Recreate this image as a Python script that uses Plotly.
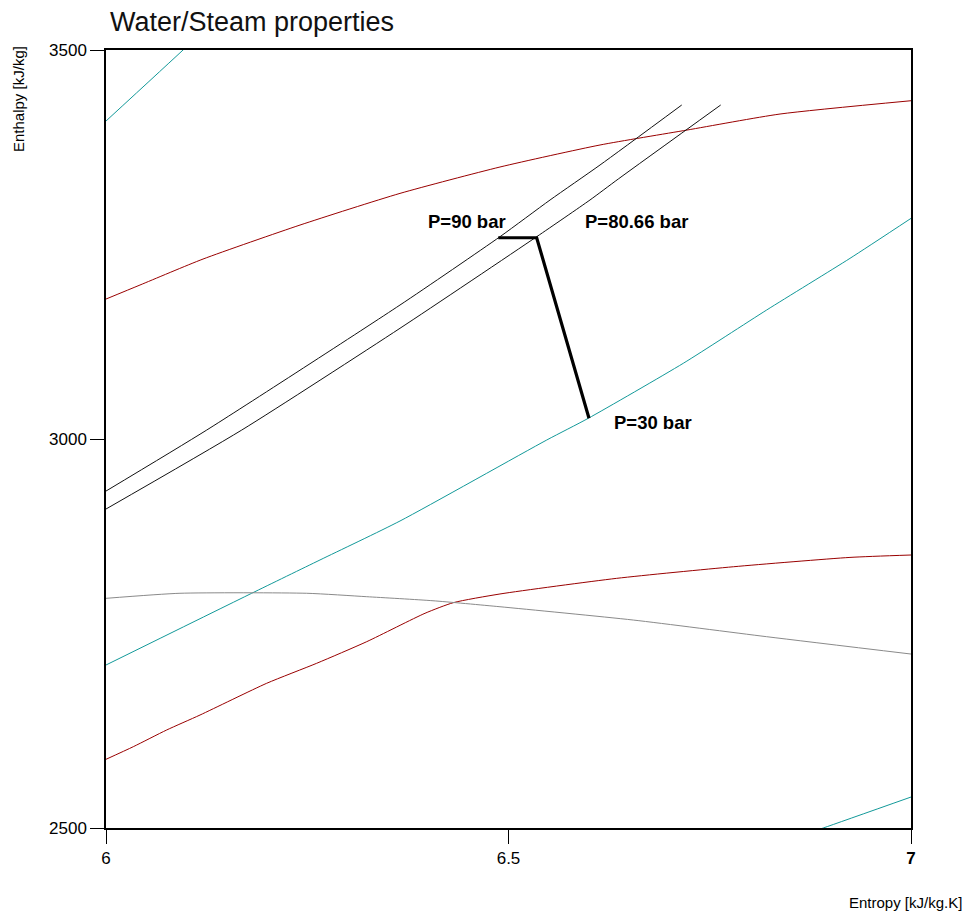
import plotly.graph_objects as go

# Mollier (h-s) diagram data: entropy s [kJ/kg.K], enthalpy h [kJ/kg]

# isobar P = 90 bar
s_p90 = [6.0, 6.1251, 6.3652, 6.4894, 6.5516, 6.6137, 6.7152]
h_p90 = [2933.1, 3011.5, 3172.2, 3260.0, 3307.2, 3352.2, 3429.3]

# isobar P = 80.66 bar
s_p8066 = [6.0, 6.1686, 6.3652, 6.535, 6.6012, 6.6364, 6.7636]
h_p8066 = [2910.0, 3011.5, 3142.3, 3260.0, 3307.2, 3334.2, 3429.3]

# isobar P = 30 bar
s_p30 = [6.0, 6.181, 6.2658, 6.3652, 6.5475, 6.5991, 6.7171, 6.8207, 6.9242, 7.0]
h_p30 = [2709.5, 2801.7, 2844.5, 2894.6, 2998.7, 3026.6, 3097.3, 3165.8, 3232.2, 3283.6]

# further isobars clipped by the frame
s_isobar_hi = [6.0, 6.0957, 6.11]
h_isobar_hi = [3408.7, 3500.0, 3514.0]
s_isobar_lo = [6.86, 6.891, 7.0]
h_isobar_lo = [2489.0, 2500.0, 2539.8]

# isotherms
s_iso_t_hi = [6.0, 6.0422, 6.1205, 6.2410, 6.3652, 6.4894, 6.6137, 6.7217, 6.8373, 7.0]
h_iso_t_hi = [3179.9, 3197.9, 3231.3, 3275.0, 3315.7, 3349.6, 3377.9, 3397.1, 3417.7, 3434.8]
s_iso_t_lo = [6.0, 6.0339, 6.0754, 6.1168, 6.1996, 6.2617, 6.3239, 6.3963, 6.4314,
              6.4894, 6.6344, 6.7793, 6.9242, 7.0]
h_iso_t_lo = [2588.3, 2604.5, 2626.0, 2645.2, 2686.0, 2711.7, 2739.5, 2776.0, 2789.6,
              2800.8, 2820.9, 2835.8, 2847.8, 2850.9]

# saturated vapour line
s_sat = [6.0, 6.0919, 6.2493, 6.3239, 6.4062, 6.4894, 6.655, 6.8207, 7.0]
h_sat = [2795.2, 2801.7, 2801.7, 2797.3, 2792.1, 2784.4, 2767.3, 2745.9, 2723.6]

# process: throttling 90 -> 80.66 bar, then expansion to 30 bar
s_proc = [6.4873, 6.535, 6.6]
h_proc = [3258.7, 3258.7, 3026.6]

# state labels
lbl_text = ["P=90 bar", "P=80.66 bar", "P=30 bar"]
lbl_s = [6.449, 6.659, 6.679]
lbl_h = [3279.0, 3279.0, 3021.8]

TEAL = "#129999"
RED = "#990000"
FONT = "Liberation Sans, Arial, sans-serif"

fig = go.Figure()


def add_curve(s, h, color, width=1.0):
    fig.add_trace(go.Scatter(x=s, y=h, mode="lines",
                             line=dict(color=color, width=width, shape="spline", smoothing=0.6),
                             hoverinfo="skip", showlegend=False))


add_curve(s_isobar_hi, h_isobar_hi, TEAL)
add_curve(s_isobar_lo, h_isobar_lo, TEAL)
add_curve(s_p30, h_p30, TEAL)
add_curve(s_iso_t_hi, h_iso_t_hi, RED)
add_curve(s_iso_t_lo, h_iso_t_lo, RED)
add_curve(s_sat, h_sat, "#8a8a8a")
add_curve(s_p90, h_p90, "#111111")
add_curve(s_p8066, h_p8066, "#111111")
fig.add_trace(go.Scatter(x=s_proc, y=h_proc, mode="lines",
                         line=dict(color="#000000", width=3.2),
                         hoverinfo="skip", showlegend=False))

annotations = []
for t, sx, hy in zip(lbl_text, lbl_s, lbl_h):
    annotations.append(dict(x=sx, y=hy, xref="x", yref="y", text="<b>%s</b>" % t,
                            showarrow=False, xanchor="center", yanchor="middle",
                            font=dict(family=FONT, size=18.5, color="#000000")))

annotations.append(dict(x=(18 - 106) / 805, y=(828 - 44) / 778, xref="paper", yref="paper",
                        text="Enthalpy [kJ/kg]", textangle=-90, showarrow=False,
                        xanchor="center", yanchor="top",
                        font=dict(family=FONT, size=15, color="#000000")))
annotations.append(dict(x=(964 - 106) / 805, y=(828 - 903) / 778, xref="paper", yref="paper",
                        text="Entropy [kJ/kg.K]", showarrow=False,
                        xanchor="right", yanchor="middle",
                        font=dict(family=FONT, size=15, color="#000000")))

axis_common = dict(showgrid=False, zeroline=False, showline=True, linecolor="#000000",
                   linewidth=1.5, mirror=True, ticks="outside", ticklen=14,
                   tickcolor="#000000", tickwidth=1,
                   tickfont=dict(family=FONT, size=17, color="#000000"))

fig.update_layout(
    width=966, height=915,
    margin=dict(l=106, r=55, t=50, b=87),
    paper_bgcolor="white", plot_bgcolor="white",
    title=dict(text="Water/Steam properties", x=110 / 966, xanchor="left",
               y=1 - 22 / 915, yanchor="middle", yref="container",
               font=dict(family=FONT, size=27, color="#111111")),
    xaxis=dict(range=[6, 7], tickvals=[6, 6.5, 7], ticktext=["6", "6.5", "<b>7</b>"],
               **axis_common),
    yaxis=dict(range=[2500, 3500], tickvals=[2500, 3000, 3500],
               ticktext=["2500", "3000", "3500"], **axis_common),
    annotations=annotations,
)

fig.write_html("out.html")
